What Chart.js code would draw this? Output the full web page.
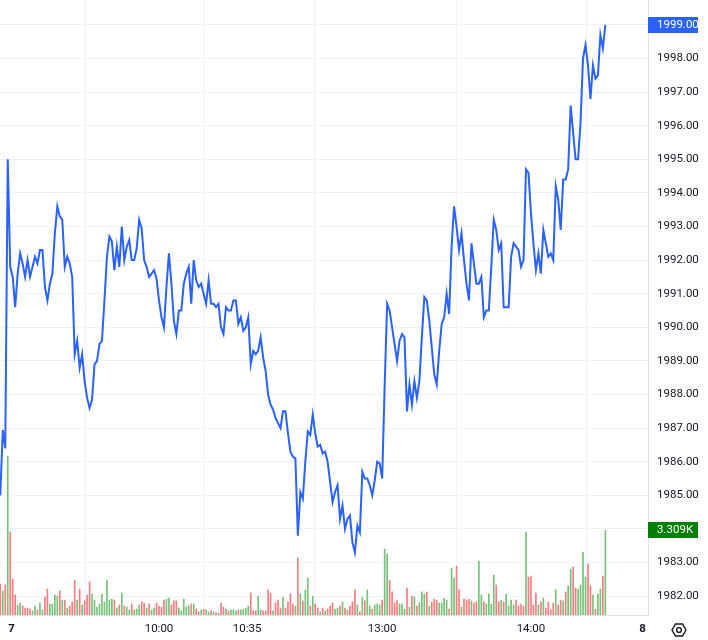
<!DOCTYPE html>
<html>
<head>
<meta charset="utf-8">
<title>Price and volume</title>
<script src="https://cdn.jsdelivr.net/npm/chart.js@4.4.1/dist/chart.umd.min.js"></script>
<style>
  html, body { margin: 0; padding: 0; background: #ffffff; }
  #wrap { width: 708px; height: 640px; position: relative; }
</style>
</head>
<body>
<div id="wrap"><canvas id="chart"></canvas></div>
<script>
// one bar per minute
const prices = [
  1985.0, 1986.95, 1986.4, 1995.0, 1991.8, 1991.5, 1990.6, 1991.6, 1992.2, 1991.9,
  1991.5, 1992.0, 1991.5, 1991.8, 1992.1, 1991.9, 1992.3, 1992.3, 1991.2, 1990.8,
  1991.3, 1991.6, 1992.8, 1993.6, 1993.3, 1993.2, 1991.8, 1992.1, 1991.9, 1991.5,
  1989.2, 1989.6, 1988.8, 1989.2, 1988.4, 1987.9, 1987.6, 1987.85, 1988.9, 1989.0,
  1989.5, 1989.6, 1990.8, 1992.1, 1992.7, 1992.55, 1991.7, 1992.4, 1991.8, 1993.0,
  1992.0, 1992.4, 1992.6, 1992.0, 1992.0, 1992.35, 1993.2, 1992.95, 1992.0, 1991.8,
  1991.5, 1991.6, 1991.7, 1991.45, 1990.8, 1990.3, 1990.0, 1991.2, 1992.2, 1991.3,
  1990.2, 1989.8, 1990.5, 1990.5, 1991.3, 1991.6, 1991.8, 1990.7, 1992.0, 1991.4,
  1991.2, 1991.3, 1991.0, 1990.7, 1991.4, 1990.7, 1990.7, 1990.6, 1990.7, 1990.0,
  1989.8, 1990.6, 1990.5, 1990.5, 1990.8, 1990.8, 1990.1, 1990.3, 1989.9, 1990.0,
  1990.3, 1988.9, 1989.3, 1989.2, 1989.3, 1989.7, 1989.1, 1988.7, 1988.0, 1987.7,
  1987.55, 1987.3, 1987.15, 1987.0, 1987.5, 1987.5, 1986.85, 1986.3, 1986.15, 1986.1,
  1983.8, 1985.1, 1984.9, 1986.0, 1986.9, 1986.8, 1987.4, 1986.85, 1986.45, 1986.5,
  1986.25, 1986.3, 1986.0, 1985.4, 1984.8, 1985.1, 1985.3, 1984.3, 1984.7, 1984.0,
  1984.3, 1984.4, 1983.6, 1983.3, 1984.1, 1983.9, 1985.7, 1985.5, 1985.5, 1985.3,
  1985.0, 1985.45, 1986.0, 1985.95, 1985.5, 1988.25, 1990.7, 1990.5, 1990.0, 1989.5,
  1989.0, 1989.6, 1989.8, 1989.7, 1987.5, 1988.3, 1987.7, 1988.4, 1987.9, 1988.4,
  1989.7, 1990.9, 1990.8, 1990.2, 1989.4, 1988.6, 1988.3, 1989.3, 1990.1, 1990.3,
  1991.0, 1990.4, 1992.4, 1993.6, 1993.0, 1992.3, 1992.8, 1992.0, 1991.3, 1990.8,
  1992.5, 1991.9, 1991.3, 1991.3, 1991.5, 1990.3, 1990.5, 1990.5, 1991.8, 1993.2,
  1992.9, 1992.3, 1992.5, 1990.6, 1990.6, 1990.6, 1992.1, 1992.5, 1992.4, 1992.3,
  1991.8, 1992.0, 1994.7, 1994.6, 1993.4, 1992.5, 1991.7, 1992.2, 1991.6, 1992.9,
  1992.5, 1992.1, 1992.2, 1992.0, 1994.2, 1993.8, 1992.9, 1994.4, 1994.4, 1994.7,
  1996.6, 1995.8, 1995.0, 1995.0, 1996.1, 1998.0, 1998.4, 1997.8, 1996.8, 1997.8,
  1997.4, 1997.5, 1998.7, 1998.3, 1999.0
];

const volumes = [
  1210, 940, 1170, 6200, 3240, 1400, 780, 390, 470, 350,
  270, 270, 230, 160, 350, 200, 470, 200, 700, 1010,
  430, 430, 780, 740, 940, 580, 580, 270, 350, 510,
  1360, 580, 1010, 390, 550, 780, 1290, 820, 580, 310,
  430, 820, 510, 1360, 580, 620, 580, 270, 390, 860,
  350, 310, 200, 430, 200, 230, 390, 510, 470, 270,
  430, 200, 270, 470, 350, 310, 580, 620, 660, 390,
  550, 550, 270, 160, 620, 310, 350, 430, 430, 230,
  120, 200, 230, 200, 120, 160, 120, 80, 80, 470,
  310, 230, 160, 200, 200, 160, 200, 200, 230, 270,
  350, 860, 160, 160, 740, 200, 160, 160, 980, 860,
  160, 470, 580, 270, 700, 270, 510, 820, 430, 350,
  2220, 820, 550, 980, 1440, 350, 740, 430, 270, 120,
  270, 160, 230, 350, 470, 230, 270, 350, 510, 270,
  200, 350, 510, 980, 390, 120, 700, 550, 980, 350,
  230, 390, 430, 390, 580, 2570, 2380, 1360, 900, 470,
  550, 430, 430, 230, 1050, 310, 740, 700, 350, 470,
  900, 820, 900, 350, 510, 620, 580, 470, 470, 660,
  580, 230, 1830, 1440, 1910, 980, 310, 620, 580, 620,
  550, 470, 510, 2100, 780, 510, 430, 820, 430, 1560,
  1170, 510, 580, 510, 820, 350, 580, 390, 580, 350,
  430, 350, 3230, 1480, 1520, 390, 860, 390, 510, 660,
  270, 510, 200, 470, 980, 390, 580, 550, 900, 1130,
  1790, 1870, 1050, 1010, 1170, 2450, 1480, 1990, 1130, 780,
  230, 820, 1010, 1520, 3309
];

// g = up bar, r = down bar
const volumeSides = [
  "rgrgrrrggr", "rrrggrggrr", "ggggrgrgrr", "rgrgrrrggg", "ggggggrgrg",
  "rggrgggrrg", "rggrrrrggr", "rrgggggrgr", "rgrggrgrgr", "rgrgggrggg",
  "grrrggrrrr", "grrrgrrrrg", "rgrggrgrrg", "rgrrrggrgr", "grrrgrgrgg",
  "rgggrggrrr", "rgggrgrgrg", "ggrgrrrggg", "grggrrgrrr", "grrggrgggg",
  "rrgrggggrr", "rrgrrrrgrg", "rrrrgrrgrg", "grrggggrrg", "rggrg"
].join("");

// time axis: bar index of each label
const timeTicks = [4.5, 64, 99.5, 154, 214, 259];
const timeLabels = ["7", "10:00", "10:35", "13:00", "14:00", "8"];
const dayLabels = ["7", "8"];

const priceTicks = [1982, 1983, 1984, 1985, 1986, 1987, 1988, 1989, 1990,
  1991, 1992, 1993, 1994, 1995, 1996, 1997, 1998, 1999];

const FONT_FAMILY = 'Roboto, "Liberation Sans", sans-serif';
const FONT_SIZE = 11.5;
const TEXT = "#131722";
const GRID = "#f0f3fa";
const BORDER = "#e0e3eb";
const UP = "#75c278";
const DOWN = "#f77c80";

const lastPrice = prices[prices.length - 1];
const lastVolume = volumes[volumes.length - 1];

// value badges on the price scale + the settings gear
const badges = {
  id: "badges",
  afterDraw(chart) {
    const { ctx, scales } = chart;
    const yScale = scales.y;
    const volScale = scales.vol;

    const drawBadge = (py, text, color) => {
      ctx.save();
      ctx.fillStyle = color;
      ctx.fillRect(yScale.left, Math.round(py) - 8, 50, 16);
      ctx.fillStyle = "#ffffff";
      ctx.font = `${FONT_SIZE}px ${FONT_FAMILY}`;
      ctx.textAlign = "left";
      ctx.textBaseline = "middle";
      ctx.fillText(text, yScale.left + 9, Math.round(py) + 0.5);
      ctx.restore();
    };

    drawBadge(yScale.getPixelForValue(lastPrice), lastPrice.toFixed(2), "#2962ff");
    drawBadge(volScale.getPixelForValue(lastVolume), (lastVolume / 1000).toFixed(3) + "K", "#008000");

    // gear icon in the corner
    const cx = yScale.left + 31;
    const cy = chart.scales.x.top + 15;
    ctx.save();
    ctx.strokeStyle = TEXT;
    ctx.lineWidth = 1.4;
    ctx.beginPath();
    for (let k = 0; k < 6; k++) {
      const a = Math.PI / 3 * k;
      const px = cx + 7 * Math.cos(a);
      const py = cy + 7 * Math.sin(a);
      if (k === 0) ctx.moveTo(px, py); else ctx.lineTo(px, py);
    }
    ctx.closePath();
    ctx.stroke();
    ctx.beginPath();
    ctx.arc(cx, cy, 2.4, 0, Math.PI * 2);
    ctx.stroke();
    ctx.restore();
  }
};

// no extra room for half-labels at the ends of the scales
const noEdgePadding = (scale) => {
  scale.paddingTop = 0;
  scale.paddingBottom = 0;
  scale.paddingLeft = 0;
  scale.paddingRight = 0;
};

const ctx = document.getElementById("chart").getContext("2d");

new Chart(ctx, {
  type: "line",
  data: {
    datasets: [
      {
        type: "line",
        label: "Price",
        data: prices.map((p, i) => ({ x: i, y: p })),
        borderColor: "#2962ff",
        borderWidth: 2,
        pointRadius: 0,
        tension: 0,
        yAxisID: "y",
        order: 0
      },
      {
        type: "bar",
        label: "Volume",
        data: volumes.map((v, i) => ({ x: i, y: v })),
        backgroundColor: volumes.map((v, i) => (volumeSides[i] === "g" ? UP : DOWN)),
        barThickness: 1,
        yAxisID: "vol",
        order: 1
      }
    ]
  },
  options: {
    responsive: true,
    maintainAspectRatio: false,
    animation: false,
    layout: { padding: 0 },
    plugins: {
      legend: { display: false },
      tooltip: { enabled: false }
    },
    scales: {
      x: {
        type: "linear",
        min: -0.12,
        max: 261.2,
        offset: false,
        afterBuildTicks: (scale) => {
          scale.ticks = timeTicks.map((v) => ({ value: v }));
        },
        afterFit: (scale) => {
          scale.height = 25;
          noEdgePadding(scale);
        },
        ticks: {
          autoSkip: false,
          maxRotation: 0,
          padding: 7,
          color: TEXT,
          font: (c) => {
            const lbl = c.tick ? timeLabels[timeTicks.indexOf(c.tick.value)] : "";
            return {
              family: FONT_FAMILY,
              size: FONT_SIZE,
              weight: dayLabels.includes(lbl) ? "bold" : "normal"
            };
          },
          callback: (v) => timeLabels[timeTicks.indexOf(v)]
        },
        grid: { color: GRID, drawTicks: false },
        border: { display: true, color: BORDER }
      },
      y: {
        type: "linear",
        position: "right",
        min: 1981.44,
        max: 1999.74,
        afterBuildTicks: (scale) => {
          scale.ticks = priceTicks.map((v) => ({ value: v }));
        },
        afterFit: (scale) => {
          scale.width = 60;
          noEdgePadding(scale);
        },
        ticks: {
          padding: 9,
          color: TEXT,
          font: { family: FONT_FAMILY, size: FONT_SIZE },
          callback: (v) => v.toFixed(2)
        },
        grid: { color: GRID, drawTicks: false },
        border: { display: true, color: BORDER }
      },
      vol: {
        type: "linear",
        display: false,
        min: 0,
        max: 24000
      }
    }
  },
  plugins: [badges]
});
</script>
</body>
</html>
